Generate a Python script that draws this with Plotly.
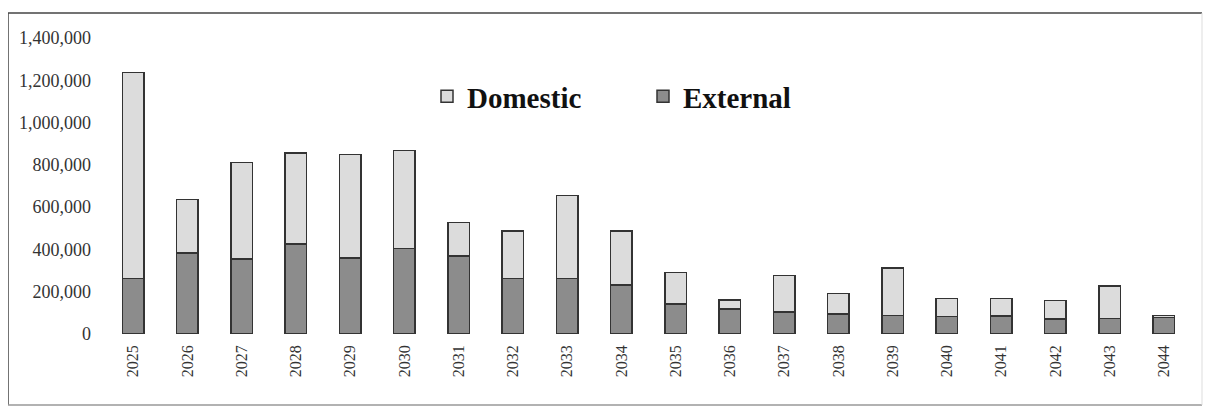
import plotly.graph_objects as go

years = ["2025", "2026", "2027", "2028", "2029", "2030", "2031", "2032", "2033", "2034",
         "2035", "2036", "2037", "2038", "2039", "2040", "2041", "2042", "2043", "2044"]
external = [263000, 383000, 354000, 425000, 359000, 405000, 368000, 263000, 263000, 232000,
            141000, 118000, 104000, 95000, 87000, 82000, 85000, 71000, 74000, 78000]
domestic = [974000, 254000, 458000, 431000, 491000, 462000, 159000, 225000, 392000, 256000,
            151000, 44000, 172000, 97000, 226000, 87000, 84000, 88000, 154000, 9000]
y_ticks = [0, 200000, 400000, 600000, 800000, 1000000, 1200000, 1400000]

OFF = 8  # page body margin in the browser
W, H = 1211 - 2 * OFF, 414 - 2 * OFF
L, R, T, B = 106 - OFF, 1191 - OFF, 38 - OFF, 334 - OFF  # plot area in figure pixels

def px_x(p):
    return (p - OFF - L) / (R - L)

def px_y(p):
    return (B - (p - OFF)) / (B - T)

fig = go.Figure()
fig.add_trace(go.Bar(
    x=years, y=external, name="External",
    marker=dict(color="#8c8c8c", line=dict(color="#333333", width=1.5)),
))
fig.add_trace(go.Bar(
    x=years, y=domestic, name="Domestic",
    marker=dict(color="#dcdcdc", line=dict(color="#333333", width=1.5)),
))

fig.update_layout(
    width=W, height=H,
    barmode="stack", bargap=0.6,
    plot_bgcolor="white", paper_bgcolor="white",
    margin=dict(l=L, r=W - R, t=T, b=H - B, pad=0),
    font=dict(family="Liberation Serif, Times New Roman, serif", color="#222"),
    legend=dict(
        orientation="h", traceorder="reversed",
        x=px_x(427), y=px_y(71), xanchor="left", yanchor="top",
        font=dict(size=29, family="Liberation Serif, serif", color="#111", weight="bold"),
        entrywidth=171, bgcolor="rgba(0,0,0,0)",
        itemwidth=30,
    ),
    xaxis=dict(
        type="category", tickangle=-90, showgrid=False, showline=False,
        ticks="", tickfont=dict(size=16, color="#333"), ticklabelstandoff=7,
    ),
    yaxis=dict(
        range=[0, 1400000], tickvals=y_ticks, tickformat=",", showgrid=False,
        showline=False, zeroline=False, ticks="", ticklabelstandoff=14,
        tickfont=dict(size=18, color="#333"),
    ),
    shapes=[
        dict(type="line", xref="paper", yref="paper",
             x0=px_x(8), x1=px_x(1202), y0=px_y(13), y1=px_y(13),
             line=dict(color="#444", width=1.5)),
        dict(type="line", xref="paper", yref="paper",
             x0=px_x(8), x1=px_x(8), y0=px_y(13), y1=px_y(405),
             line=dict(color="#444", width=1.5)),
        dict(type="line", xref="paper", yref="paper",
             x0=px_x(8), x1=px_x(1202), y0=px_y(405), y1=px_y(405),
             line=dict(color="#999", width=1.5)),
        dict(type="line", xref="paper", yref="paper",
             x0=px_x(1202), x1=px_x(1202), y0=px_y(13), y1=px_y(405),
             line=dict(color="#ddd", width=1)),
    ],
)

fig.write_html("out.html")
